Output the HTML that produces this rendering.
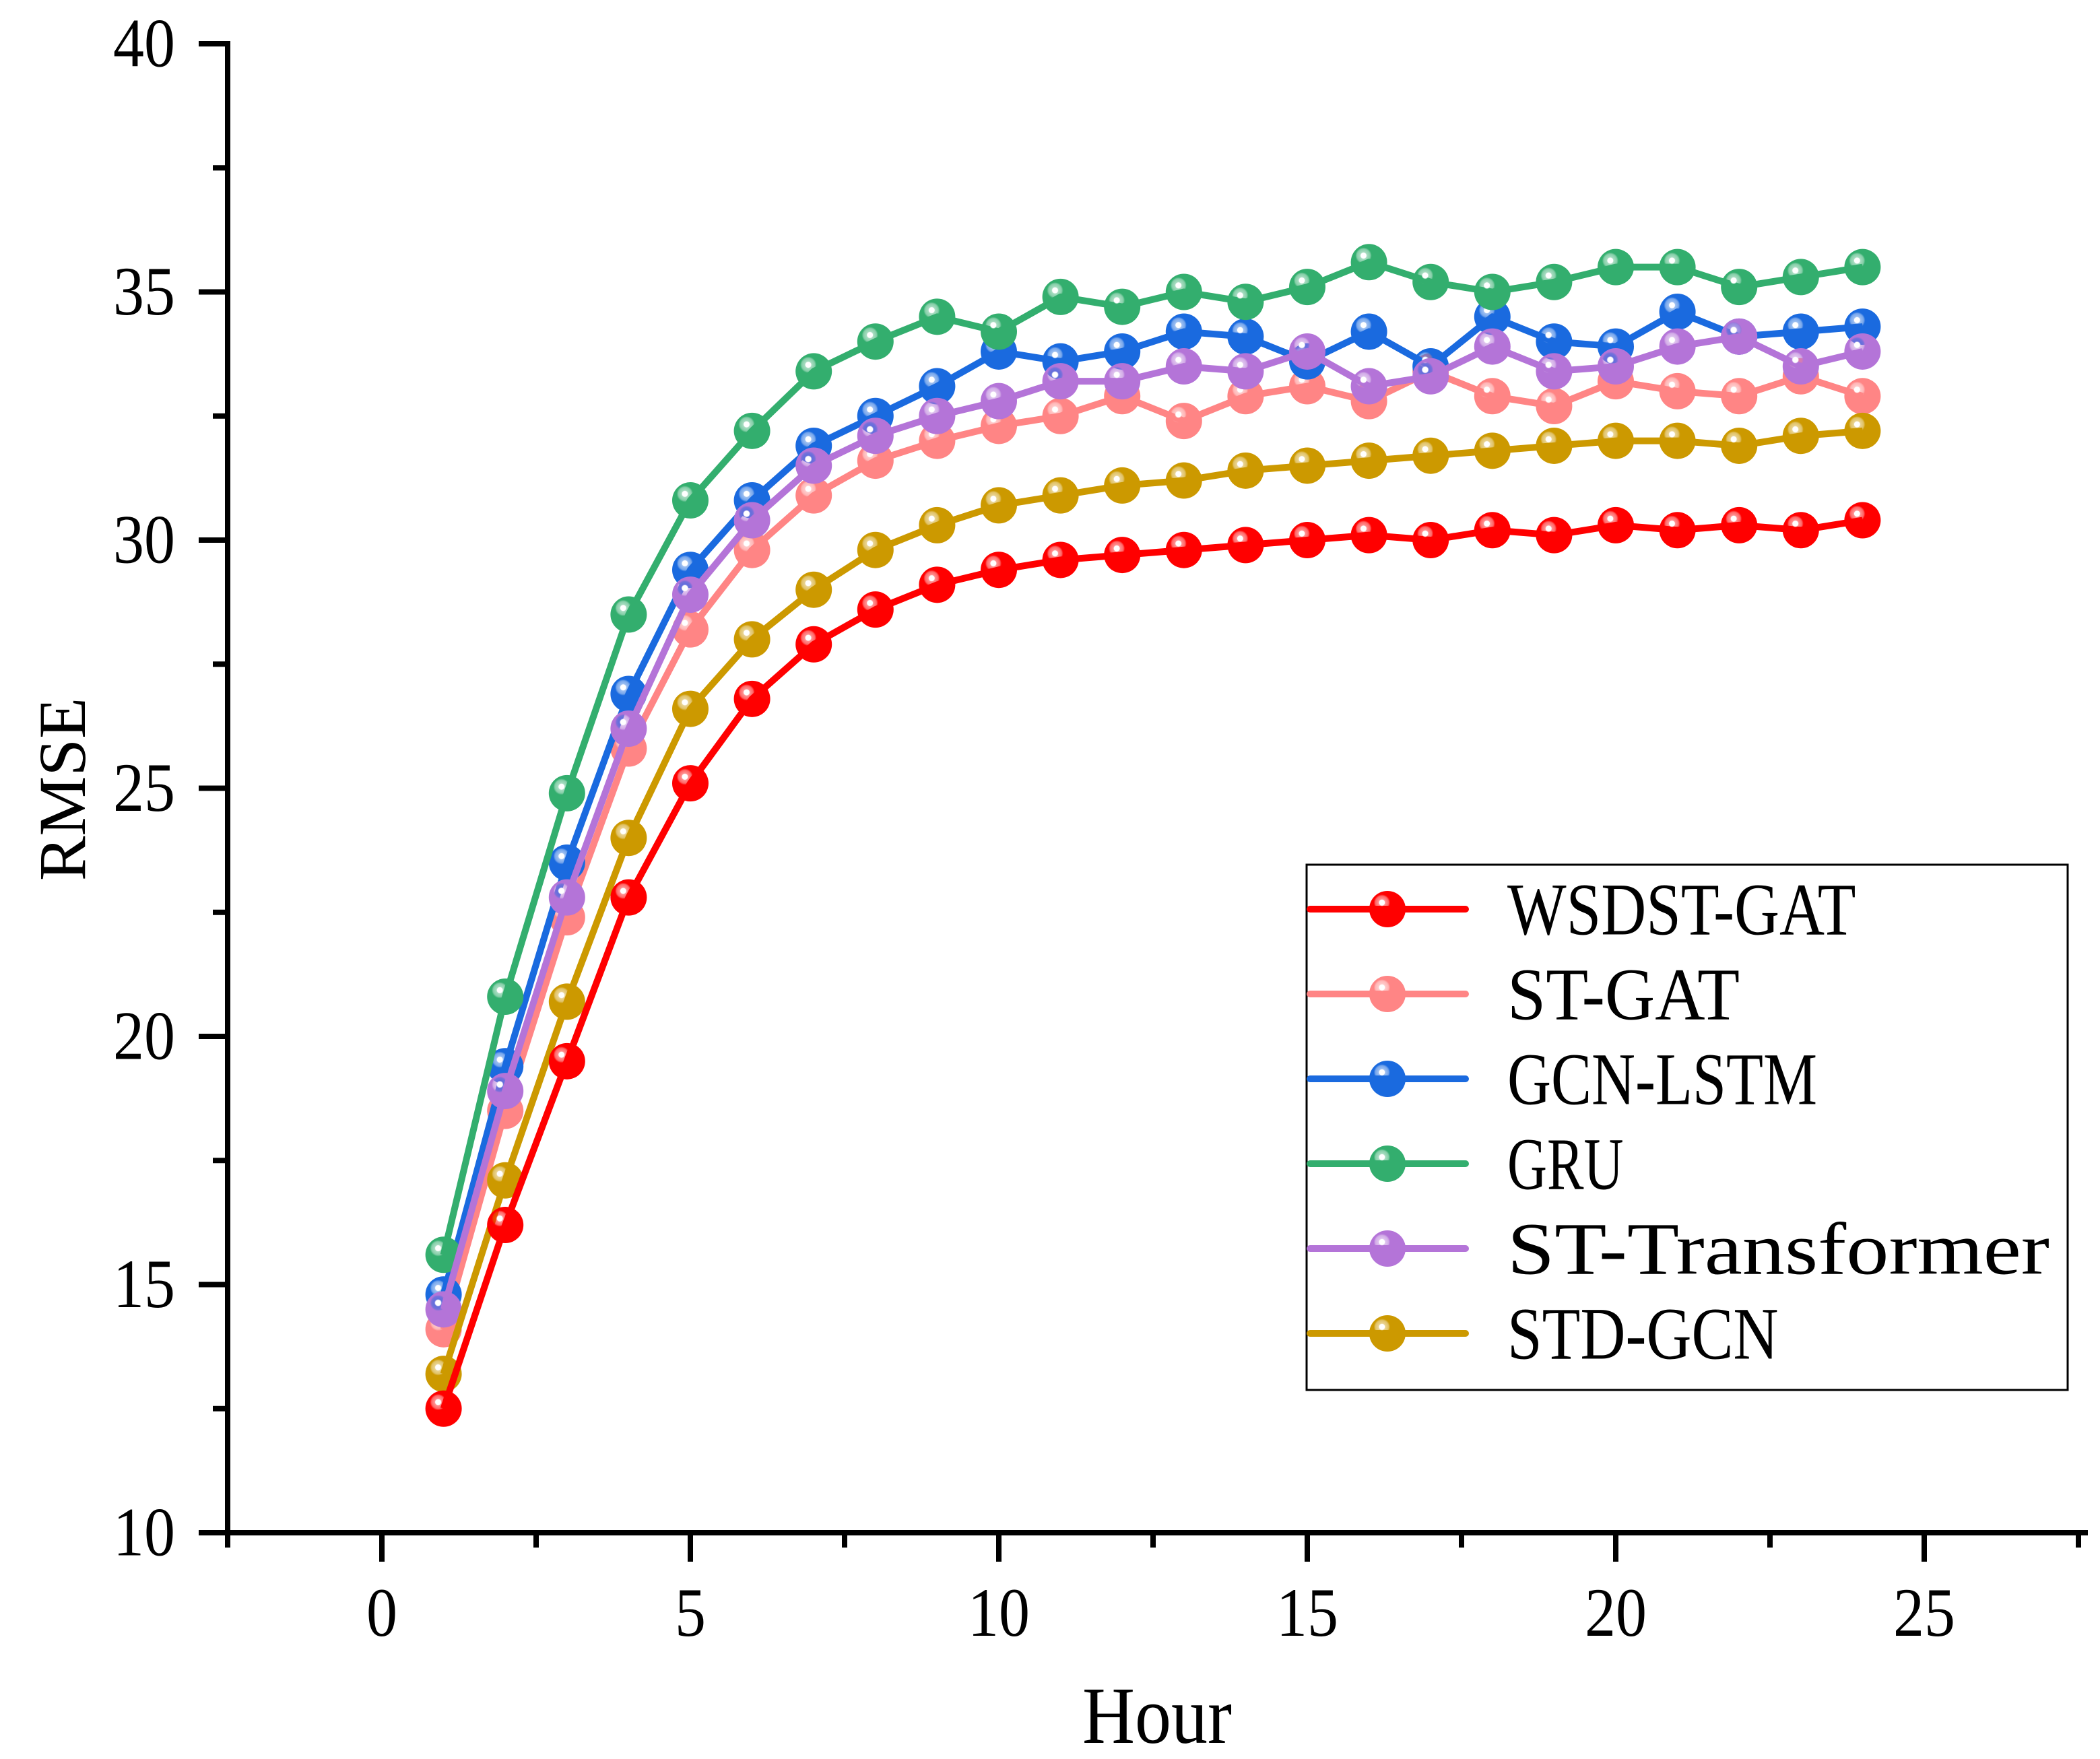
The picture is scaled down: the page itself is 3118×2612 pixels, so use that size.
<!DOCTYPE html>
<html><head><meta charset="utf-8"><style>
html,body{margin:0;padding:0;background:#fff;}
svg{display:block;}
</style></head><body>
<svg id="chart" width="3118" height="2612" viewBox="0 0 3118 2612" xmlns="http://www.w3.org/2000/svg">
<defs id="defs"></defs>
<g id="plot"></g>
<g id="axes"></g>
<g id="legend"></g>
</svg>
<script>
const hours = [1,2,3,4,5,6,7,8,9,10,11,12,13,14,15,16,17,18,19,20,21,22,23,24];
const seriesNames = ["WSDST-GAT","ST-GAT","GCN-LSTM","GRU","ST-Transformer","STD-GCN"];
const wsdstGat = [12.5,16.2,19.5,22.8,25.1,26.8,27.9,28.6,29.1,29.4,29.6,29.7,29.8,29.9,30.0,30.1,30.0,30.2,30.1,30.3,30.2,30.3,30.2,30.4];
const stGat = [14.1,18.5,22.4,25.8,28.2,29.8,30.9,31.6,32.0,32.3,32.5,32.9,32.4,32.9,33.1,32.8,33.4,32.9,32.7,33.2,33.0,32.9,33.3,32.9];
const gcnLstm = [14.8,19.4,23.5,26.9,29.4,30.8,31.9,32.5,33.1,33.8,33.6,33.8,34.2,34.1,33.6,34.2,33.5,34.5,34.0,33.9,34.6,34.1,34.2,34.3];
const gru = [15.6,20.8,24.9,28.5,30.8,32.2,33.4,34.0,34.5,34.2,34.9,34.7,35.0,34.8,35.1,35.6,35.2,35.0,35.2,35.5,35.5,35.1,35.3,35.5];
const stTransformer = [14.5,18.9,22.8,26.2,28.9,30.4,31.5,32.1,32.5,32.8,33.2,33.2,33.5,33.4,33.8,33.1,33.3,33.9,33.4,33.5,33.9,34.1,33.5,33.8];
const stdGcn = [13.2,17.1,20.7,24.0,26.6,28.0,29.0,29.8,30.3,30.7,30.9,31.1,31.2,31.4,31.5,31.6,31.7,31.8,31.9,32.0,32.0,31.9,32.1,32.2];
const xTicks = [0,5,10,15,20,25];
const yTicks = [10,15,20,25,30,35,40];

const NS="http://www.w3.org/2000/svg";
const X0=338, X1=3100, Y0=2276, Y1=65;
const yMin=10, yMax=40;
function xs(v){return 567+(v-0)*91.6;}
function ys(v){return Y0-(v-yMin)*(Y0-Y1)/(yMax-yMin);}
function mk(tag,attrs,parent){const e=document.createElementNS(NS,tag);for(const k in attrs)e.setAttribute(k,attrs[k]);parent.appendChild(e);return e;}

const colors={"WSDST-GAT":"#ff0000","ST-GAT":"#ff8585","GCN-LSTM":"#1a6adf","GRU":"#33ae6e","ST-Transformer":"#b474d8","STD-GCN":"#cc9900"};
const dataMap={"WSDST-GAT":wsdstGat,"ST-GAT":stGat,"GCN-LSTM":gcnLstm,"GRU":gru,"ST-Transformer":stTransformer,"STD-GCN":stdGcn};
const defs=document.getElementById('defs');
seriesNames.forEach((n,i)=>{
  const g=mk('radialGradient',{id:'g'+i,cx:'0.35',cy:'0.32',r:'0.75',fx:'0.35',fy:'0.32'},defs);
  const s1=mk('stop',{offset:'0'},g);s1.setAttribute('stop-color','#ffffff');
  const s2=mk('stop',{offset:'0.1'},g);s2.setAttribute('stop-color','#ffffff');
  const s3=mk('stop',{offset:'0.14'},g);s3.setAttribute('stop-color',colors[n]);s3.setAttribute('stop-opacity','0.45');
  const s4=mk('stop',{offset:'0.24'},g);s4.setAttribute('stop-color',colors[n]);s4.setAttribute('stop-opacity','0.6');
  const s5=mk('stop',{offset:'0.3'},g);s5.setAttribute('stop-color',colors[n]);
  const s6=mk('stop',{offset:'1'},g);s6.setAttribute('stop-color',colors[n]);
});

const plot=document.getElementById('plot');
const order=["ST-GAT","GCN-LSTM","GRU","ST-Transformer","STD-GCN","WSDST-GAT"];
order.forEach(n=>{
  const i=seriesNames.indexOf(n);const vals=dataMap[n];
  const g=mk('g',{},plot);
  
  
  const pts=hours.map((h,k)=>xs(h)+','+ys(vals[k])).join(' ');
  const pl=mk('polyline',{points:pts,fill:'none',stroke:colors[n],'stroke-width':10,'stroke-linejoin':'round'},g);
  
  
  hours.forEach((h,k)=>{
    const c=mk('circle',{cx:xs(h),cy:ys(vals[k]),r:27,fill:'url(#g'+i+')'},g);
    
    
  });
});

const axes=document.getElementById('axes');
const F='"Liberation Serif", serif';
mk('line',{x1:X0,y1:Y1-4,x2:X0,y2:Y0+4,stroke:'#000','stroke-width':8},axes);
mk('line',{x1:X0-4,y1:Y0,x2:X1,y2:Y0,stroke:'#000','stroke-width':8},axes);
yTicks.forEach(v=>{
  mk('line',{x1:X0-43,y1:ys(v),x2:X0,y2:ys(v),stroke:'#000','stroke-width':8},axes);
  const t=mk('text',{x:260,y:ys(v)+30,'text-anchor':'end','font-size':92,'font-family':F,transform:'translate(0,'+(ys(v))+') scale(1,1.12) translate(0,'+(-ys(v))+')'},axes);
  t.textContent=v;
  
  
});
for(let v=12.5;v<40;v+=5){mk('line',{x1:X0-22,y1:ys(v),x2:X0,y2:ys(v),stroke:'#000','stroke-width':8},axes);}
xTicks.forEach(v=>{
  mk('line',{x1:xs(v),y1:Y0,x2:xs(v),y2:Y0+43,stroke:'#000','stroke-width':8},axes);
  const t=mk('text',{x:xs(v),y:2429,'text-anchor':'middle','font-size':92,'font-family':F,transform:'translate(0,2429) scale(1,1.12) translate(0,-2429)'},axes);
  t.textContent=v;
  
  
});
for(let v=-2.5;v<28;v+=5){mk('line',{x1:xs(v),y1:Y0,x2:xs(v),y2:Y0+22,stroke:'#000','stroke-width':8},axes);}
const xt=mk('text',{x:1718,y:2588,'text-anchor':'middle','font-size':108,'font-family':F,transform:'translate(0,2588) scale(1,1.12) translate(0,-2588)'},axes);
xt.textContent='Hour';
const yt=mk('text',{x:0,y:0,'text-anchor':'middle','font-size':100,'font-family':F,transform:'translate(126,1172) rotate(-90)'},axes);
yt.textContent='RMSE';

const lg=document.getElementById('legend');
const box=mk('rect',{x:1940,y:1284,width:1130,height:780,fill:'#fff',stroke:'#000','stroke-width':3},lg);

seriesNames.forEach((n,i)=>{
  const y=1350+i*126;
  const g=mk('g',{},lg);
  
  
  mk('line',{x1:1945,y1:y,x2:2176,y2:y,stroke:colors[n],'stroke-width':10,'stroke-linecap':'round'},g);
  mk('circle',{cx:2060,cy:y,r:27,fill:'url(#g'+i+')'},g);
  const t=mk('text',{x:2238,y:y+30,'font-size':88,'font-family':F,textLength:n.length*57.5,lengthAdjust:'spacingAndGlyphs',transform:'translate(0,'+y+') scale(1,1.25) translate(0,'+(-y)+')'},g);
  t.textContent=n;
});
</script>
</body></html>
